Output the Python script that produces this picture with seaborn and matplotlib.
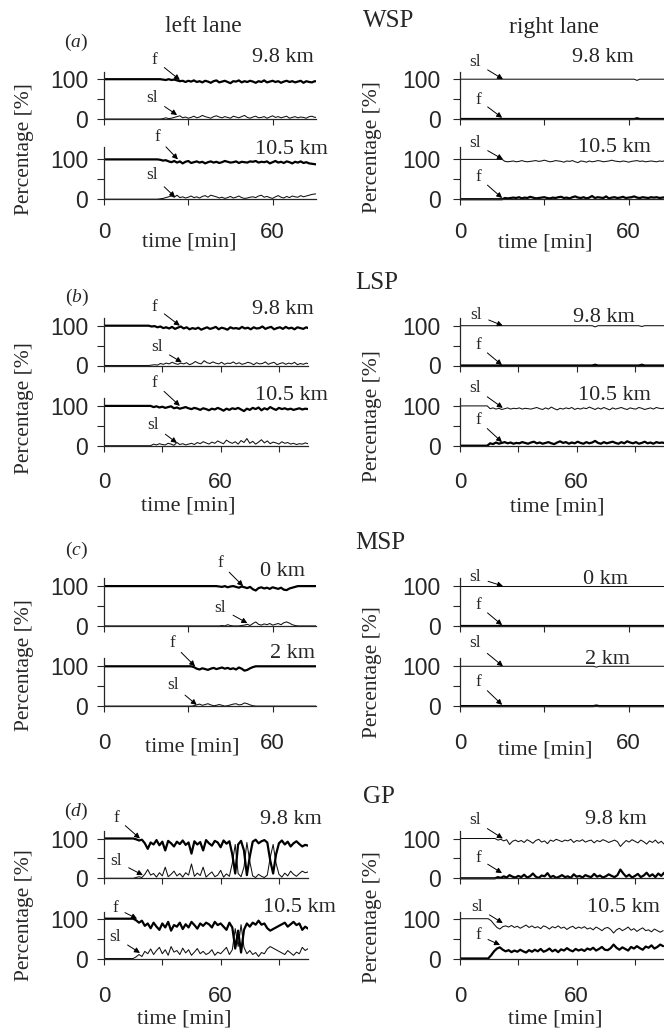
import matplotlib
matplotlib.use("Agg")
import matplotlib.pyplot as plt
import seaborn as sns

W, H = 664, 1032

# ------------------------------------------------------------------ data
LANES = ["left lane", "right lane"]
GROUPS = ["WSP", "LSP", "MSP", "GP"]
PANEL_LETTERS = ["a", "b", "c", "d"]
DISTANCES = [["9.8 km", "10.5 km"], ["9.8 km", "10.5 km"], ["0 km", "2 km"], ["9.8 km", "10.5 km"]]
Y_TICKS = [0, 50, 100]
Y_TICK_LABELS = ["0", "", "100"]
X_TICKS = [0, 30, 60, 90]
X_TICK_LABELS = ["0", "", "60", ""]
X_MAX = [75.5, 105, 75.5, 105]          # minutes shown per group
STEP_AC = 1.0                            # sampling step [min] groups a, c
STEP_BD = 1.5                            # sampling step [min] groups b, d

# ---- (a) WSP, left lane
a_lt_f = [100, 99, 98, 100, 98, 99, 97, 95, 96, 93, 96, 94, 97, 93, 95, 92, 96, 94, 91, 95,
          97, 92, 94, 96, 93, 90, 95, 94, 97, 92, 95, 93, 96, 94, 91, 95, 93, 97, 92, 94,
          96, 93, 95, 91, 94, 96, 93, 95, 92, 94, 96, 91, 95, 93, 92, 95, 94, 93]
a_lt_sl = [0, 1, 3, 1, 2, 4, 6, 8, 3, 5, 2, 4, 7, 3, 5, 9, 6, 4, 2, 6,
           8, 5, 3, 6, 4, 2, 7, 5, 3, 6, 9, 4, 2, 5, 7, 3, 4, 6, 2, 5,
           8, 4, 6, 3, 5, 7, 2, 4, 6, 3, 5, 4, 2, 6, 7, 4, 5, 6]
a_lb_f = [100, 99, 97, 98, 95, 93, 96, 92, 95, 90, 94, 96, 91, 93, 95, 92, 94, 90, 93, 95,
          92, 94, 91, 93, 96, 94, 92, 93, 95, 91, 94, 93, 92, 95, 94, 96, 92, 94, 93, 95,
          90, 93, 96, 92, 94, 91, 95, 93, 90, 94, 92, 95, 91, 93, 90, 89, 88, 87, 88]
a_lb_sl = [0, 1, 2, 4, 6, 8, 5, 10, 4, 6, 3, 5, 8, 4, 6, 3, 7, 9, 5, 10,
           8, 6, 3, 5, 2, 4, 7, 3, 5, 8, 4, 2, 3, 5, 6, 4, 8, 10, 5, 7,
           4, 2, 6, 9, 5, 3, 7, 4, 8, 6, 5, 9, 6, 8, 10, 12, 13, 14, 14]
# ---- (a) WSP, right lane
a_rt_sl = [100, 97, 100]
a_rt_f = [0, 2, 0]
a_rb_sl = [100, 95, 94, 95, 96, 94, 95, 97, 95, 94, 95, 96, 97, 95, 96, 98, 96, 94, 95, 97,
           96, 95, 93, 96, 95, 97, 94, 92, 96, 95, 93, 96, 94, 95, 97, 96, 94, 95, 96, 98,
           96, 95, 94, 96, 95, 93, 95, 96, 97, 95, 96, 94, 95, 96, 95, 94, 96, 95, 97, 95, 96, 95]
a_rb_f = [0, 3, 2, 3, 4, 3, 5, 2, 4, 3, 6, 4, 2, 3, 4, 5, 3, 2, 4, 3,
          5, 6, 3, 4, 2, 5, 7, 4, 3, 5, 2, 4, 8, 3, 5, 4, 3, 7, 2, 4,
          5, 3, 4, 6, 3, 4, 5, 7, 4, 3, 5, 4, 3, 5, 4, 5, 3, 4, 5, 4, 3, 4]

# ---- (b) LSP, left lane
b_lt_f = [100, 98, 99, 96, 98, 94, 96, 93, 97, 92, 95, 98, 93, 96, 91, 94, 92, 95, 90, 93,
          96, 92, 94, 97, 91, 95, 93, 90, 96, 93, 94, 92, 97, 93, 95, 91, 96, 93, 94, 98,
          92, 95, 97, 91, 94, 96, 92, 97, 93, 95, 91, 96, 94, 92, 96, 93]
b_lt_sl = [0, 1, 2, 1, 5, 3, 6, 4, 8, 5, 3, 6, 4, 7, 2, 5, 10, 6, 4, 12,
           7, 5, 9, 6, 4, 8, 3, 6, 5, 9, 4, 7, 3, 5, 8, 6, 2, 7, 4, 5,
           9, 3, 6, 8, 2, 5, 7, 3, 6, 4, 8, 2, 5, 3, 6, 4]
b_lb_f = [100, 97, 99, 96, 98, 95, 97, 99, 94, 96, 93, 95, 97, 94, 92, 95, 93, 90, 94, 92,
          89, 93, 91, 95, 92, 88, 93, 90, 94, 92, 95, 91, 87, 93, 90, 95, 92, 96, 89, 94,
          91, 97, 93, 90, 95, 92, 94, 91, 93, 90, 92, 94, 91, 93, 92, 94]
b_lb_sl = [0, 4, 2, 5, 3, 2, 6, 4, 1, 8, 3, 5, 2, 4, 6, 3, 8, 5, 10, 7,
           4, 9, 6, 12, 8, 5, 14, 9, 6, 10, 4, 13, 8, 18, 6, 11, 4, 9, 15, 7,
           12, 5, 9, 7, 4, 10, 6, 8, 4, 6, 3, 5, 4, 7, 5, 6]
# ---- (b) LSP, right lane
b_rt_sl = [100, 97, 100, 100, 100, 100, 100, 100, 100, 100, 100, 100, 100, 100, 100, 100, 100, 98, 100]
b_rt_f = [0, 2, 0, 0, 0, 0, 0, 0, 0, 0, 0, 0, 0, 0, 0, 0, 0, 2, 0]
b_rb_sl = [100, 93, 95, 92, 94, 91, 93, 95, 92, 94, 93, 95, 92, 94, 93, 92, 94, 96, 93, 91,
           95, 92, 97, 93, 90, 94, 92, 95, 93, 96, 91, 94, 92, 95, 93, 97, 94, 91, 95, 92,
           96, 93, 90, 95, 92, 94, 96, 93, 91, 95, 93, 92, 96, 94, 91, 93, 95, 92, 96, 94, 93, 95]
b_rb_f = [0, 6, 4, 8, 5, 7, 9, 6, 8, 5, 7, 6, 9, 7, 5, 8, 10, 6, 8, 5,
          7, 9, 6, 4, 8, 11, 7, 9, 5, 8, 6, 10, 7, 5, 9, 6, 8, 12, 7, 5,
          9, 6, 8, 10, 7, 5, 9, 6, 11, 8, 6, 9, 5, 7, 10, 6, 8, 5, 9, 7, 8, 6]

# ---- (c) MSP, left lane
c_lt_f = [100, 99, 98, 100, 97, 99, 100, 98, 96, 99, 97, 95, 98, 92, 89, 95, 97, 94, 96, 93,
          97, 95, 93, 96, 91, 90, 94, 96, 98, 100]
c_lt_sl = [0, 0, 1, 0, 3, 1, 0, 0, 0, 1, 2, 4, 1, 6, 10, 4, 2, 5, 3, 6,
           2, 4, 6, 3, 8, 10, 7, 3, 1, 0]
c_lb_f = [100, 98, 94, 92, 95, 93, 91, 94, 96, 93, 95, 97, 94, 96, 93, 95, 92, 97, 94, 89,
          91, 95, 98, 100]
c_lb_sl = [0, 1, 3, 5, 2, 4, 6, 3, 1, 2, 4, 2, 0, 1, 3, 5, 6, 3, 4, 8,
           6, 3, 1, 0]
# ---- (c) MSP, right lane
c_rt_sl = [100]
c_rt_f = [0]
c_rb_sl = [100, 98, 100]
c_rb_f = [0, 1.5, 0]

# ---- (d) GP, left lane
d_lt_f = [100, 98, 95, 97, 88, 74, 90, 85, 96, 83, 92, 70, 94, 88, 80, 92, 86, 95, 84, 90,
          62, 93, 85, 91, 70, 96, 88, 82, 94, 90, 78, 95, 87, 93, 60, 12, 85, 94, 70, 8,
          55, 92, 97, 88, 93, 96, 90, 45, 12, 60, 88, 95, 85, 92, 80, 88, 93, 86, 80, 84, 82]
d_lt_sl = [0, 2, 4, 2, 10, 22, 8, 12, 3, 14, 6, 28, 4, 10, 18, 6, 12, 3, 14, 8,
           36, 5, 13, 7, 28, 3, 10, 16, 4, 8, 20, 3, 11, 5, 38, 85, 12, 4, 28, 90,
           42, 6, 2, 10, 5, 2, 8, 52, 85, 38, 10, 3, 13, 6, 18, 10, 5, 12, 18, 14, 16]
d_lb_f = [100, 96, 90, 95, 82, 88, 76, 90, 80, 72, 88, 78, 92, 70, 84, 80, 90, 74, 86, 78,
          92, 84, 75, 88, 82, 90, 86, 78, 92, 84, 88, 80, 72, 90, 78, 25, 70, 15, 72, 88,
          80, 90, 85, 95, 85, 88, 76, 70, 74, 78, 82, 86, 90, 80, 86, 92, 84, 88, 72, 80, 75]
d_lb_sl = [0, 4, 10, 5, 18, 12, 24, 10, 20, 28, 12, 22, 8, 30, 16, 20, 10, 26, 14, 22,
           8, 16, 25, 12, 18, 10, 14, 22, 8, 16, 12, 20, 28, 10, 22, 75, 30, 85, 28, 12,
           20, 10, 15, 5, 15, 12, 24, 30, 26, 22, 18, 14, 10, 20, 14, 8, 16, 12, 28, 20, 25]
# ---- (d) GP, right lane
d_rt_sl = [100, 96, 98, 94, 97, 85, 93, 96, 92, 95, 90, 97, 93, 88, 95, 98, 91, 94, 87, 96,
           93, 98, 95, 92, 96, 94, 98, 90, 95, 93, 97, 91, 94, 96, 89, 95, 92, 97, 94, 90,
           93, 96, 92, 80, 88, 95, 91, 97, 93, 89, 96, 92, 86, 94, 90, 96, 88, 93, 86, 90]
d_rt_f = [0, 3, 1, 5, 2, 8, 4, 2, 6, 3, 9, 2, 5, 12, 4, 1, 7, 5, 13, 3,
          6, 1, 4, 8, 3, 5, 1, 10, 4, 6, 2, 8, 5, 3, 11, 4, 7, 2, 5, 10,
          6, 3, 8, 22, 12, 4, 9, 2, 6, 11, 3, 7, 14, 5, 10, 3, 12, 6, 14, 10]
d_rb_sl = [100, 95, 86, 78, 74, 80, 82, 79, 83, 78, 81, 76, 80, 84, 78, 82, 77, 80, 75, 82,
           79, 74, 80, 77, 82, 76, 79, 73, 78, 81, 75, 79, 76, 80, 74, 77, 72, 79, 75, 70,
           76, 78, 73, 64, 72, 76, 70, 74, 79, 71, 75, 68, 73, 77, 70, 72, 67, 74, 70, 66, 70]
d_rb_f = [0, 8, 18, 25, 28, 22, 18, 21, 16, 20, 17, 22, 18, 15, 21, 17, 22, 18, 24, 17,
          20, 25, 18, 22, 16, 23, 20, 26, 21, 18, 24, 20, 23, 19, 25, 22, 27, 20, 24, 29,
          22, 21, 26, 35, 27, 22, 28, 24, 20, 29, 25, 31, 26, 22, 30, 27, 33, 25, 29, 35, 31]

# series spec: (onset [min], step [min], values, end time of flat tail or None)
SERIES = [
    [  # a
        [((20, STEP_AC, a_lt_f, None), (20, STEP_AC, a_lt_sl, None)),
         ((19, STEP_AC, a_lb_f, None), (19, STEP_AC, a_lb_sl, None))],
        [((62, STEP_AC, a_rt_f, 80), (62, STEP_AC, a_rt_sl, 80)),
         ((15, STEP_AC, a_rb_f, None), (15, STEP_AC, a_rb_sl, None))],
    ],
    [  # b
        [((23, STEP_BD, b_lt_f, None), (23, STEP_BD, b_lt_sl, None)),
         ((24, STEP_BD, b_lb_f, None), (24, STEP_BD, b_lb_sl, None))],
        [((68, STEP_BD, b_rt_f, 110), (68, STEP_BD, b_rt_sl, 110)),
         ((14, STEP_BD, b_rb_f, None), (14, STEP_BD, b_rb_sl, None))],
    ],
    [  # c
        [((40, STEP_AC, c_lt_f, 80), (40, STEP_AC, c_lt_sl, 80)),
         ((31, STEP_AC, c_lb_f, 80), (31, STEP_AC, c_lb_sl, 80))],
        [((0, STEP_AC, c_rt_f, 80), (0, STEP_AC, c_rt_sl, 80)),
         ((47.5, STEP_AC, c_rb_f, 80), (47.5, STEP_AC, c_rb_sl, 80))],
    ],
    [  # d
        [((15, STEP_BD, d_lt_f, None), (15, STEP_BD, d_lt_sl, None)),
         ((15, STEP_BD, d_lb_f, None), (15, STEP_BD, d_lb_sl, None))],
        [((18, STEP_BD, d_rt_f, None), (18, STEP_BD, d_rt_sl, None)),
         ((14.5, STEP_BD, d_rb_f, None), (14.5, STEP_BD, d_rb_sl, None))],
    ],
]

# ------------------------------------------------------------------ layout
SANS = "Liberation Sans"
SERIF = "Liberation Serif"
sns.set_style("ticks")
plt.rcParams["font.family"] = [SERIF, "DejaVu Serif"]
plt.rcParams["mathtext.fontset"] = "custom"
plt.rcParams["mathtext.rm"] = SERIF
plt.rcParams["mathtext.it"] = SERIF + ":italic"

PX_PER_UNIT = 0.398
YLIM = (-20, 135)
GROUP_ZERO = [119.0, 365.5, 625.9, 878.3]
SUB_GAP = 80.2
COL_X0 = [104, 460]
PX_PER_MIN = [2.81, 1.944, 2.81, 1.944]
SPINE_TOP = [[118, 130], [120, 121], [120, 122], [118, 118]]
XPAD = [12, 14.5, 15, 15]
YPAD = [6.5, 9]

# annotations: (label, t, value, dx_px, dy_px)
ANN = [
    [[[("f", 27, 98, -25, 20), ("sl", 26, 10, -25, 17)],
      [("f", 26.3, 100, -21, 22), ("sl", 25.3, 5, -23, 22)]],
     [[("sl", 15.3, 100, -28, 17), ("f", 15, 3, -24, 18)],
      [("sl", 15.3, 100, -28, 16), ("f", 15, 3, -24, 21)]]],
    [[[("f", 39, 100, -25, 19), ("sl", 40, 8, -25, 15)],
      [("f", 39, 100, -25, 23), ("sl", 37.5, 7, -24, 18)]],
     [[("sl", 22, 100, -27, 11), ("f", 21.6, 1, -24, 20)],
      [("sl", 22, 95, -28, 20), ("f", 21.6, 9, -24, 22)]]],
    [[[("f", 49.5, 100, -23, 23), ("sl", 51, 7, -27, 15)],
      [("f", 32.4, 100, -23, 23), ("sl", 33, 3, -24, 20)]],
     [[("sl", 15.3, 100, -28, 9), ("f", 15, 2, -24, 20)],
      [("sl", 15.3, 100, -28, 23), ("f", 15, 3, -24, 23)]]],
    [[[("f", 18.5, 100, -24, 21), ("sl", 20, 8, -27, 14)],
      [("f", 17, 100, -22, 11), ("sl", 18.5, 14, -25, 16)]],
     [[("sl", 22, 100, -28, 18), ("f", 21.6, 13, -24, 15)],
      [("sl", 22, 89, -26, 16), ("f", 20.6, 34, -22, 10)]]],
]

DIST_POS = [  # (x_left, y_center) px
    [[(252, 57), (255, 149)], [(572, 57), (578, 147)]],
    [[(252, 310), (255, 395)], [(573, 318), (578, 395)]],
    [[(260, 571), (270, 653)], [(583, 579), (585, 659)]],
    [[(260, 820), (263, 907)], [(585, 820), (587, 907)]],
]
TIME_POS = [[(189, 242), (545, 243)], [(188, 506), (557, 507)],
            [(192, 747), (545, 750)], [(184, 1019), (555, 1019)]]
PCT_Y = [[149, 147], [408, 416], [665, 672], [915, 917]]
PCT_X = [24, 373]
LETTER_POS = [(76, 42), (77, 297), (76, 550), (76, 811)]
GROUP_POS = [(363, 21), (355, 283), (355, 543), (363, 797)]
LANE_POS = [(203, 27), (554, 28)]


def fx(x):
    return x / W


def fy(y):
    return 1 - y / H


def build(spec):
    t0, dt, vals, t_end = spec
    x = [0.0] + [t0 + i * dt for i in range(len(vals))]
    y = [vals[0]] + list(vals)
    if t_end is not None:
        x.append(t_end)
        y.append(vals[-1])
    return x, y


fig = plt.figure(figsize=(W / 100, H / 100), dpi=100)

for g in range(4):
    for col in range(2):
        for sub in range(2):
            zero = GROUP_ZERO[g] + sub * SUB_GAP
            bottom_px = zero - YLIM[0] * PX_PER_UNIT
            height_px = (YLIM[1] - YLIM[0]) * PX_PER_UNIT
            width_px = X_MAX[g] * PX_PER_MIN[g]
            ax = fig.add_axes([fx(COL_X0[col]), fy(bottom_px), width_px / W, height_px / H])
            ax.patch.set_alpha(0)
            f_spec, sl_spec = SERIES[g][col][sub]
            xs, ys = build(sl_spec)
            sns.lineplot(x=xs, y=ys, ax=ax, color="#111111", linewidth=0.75,
                         estimator=None, sort=False)
            xs, ys = build(f_spec)
            sns.lineplot(x=xs, y=ys, ax=ax, color="black", linewidth=1.6,
                         estimator=None, sort=False)
            ax.set_xlabel("")
            ax.set_ylabel("")
            for s in ("top", "right"):
                ax.spines[s].set_visible(False)
            ax.spines["bottom"].set_position(("data", 0))
            ax.spines["bottom"].set_linewidth(0.9)
            ax.spines["left"].set_linewidth(0.9)
            ax.spines["left"].set_bounds(0, SPINE_TOP[g][sub])
            ax.set_yticks(Y_TICKS)
            ax.set_yticklabels(Y_TICK_LABELS, fontfamily=SANS, fontsize=16.5)
            ax.set_xticks(X_TICKS)
            if sub == 1:
                ax.set_xticklabels(X_TICK_LABELS, fontfamily=SANS, fontsize=16)
            else:
                ax.set_xticklabels([""] * len(X_TICKS))
            # limits after ticks (set_xticks would widen the view otherwise)
            ax.set_xlim(0, X_MAX[g])
            ax.set_ylim(*YLIM)
            ax.tick_params(axis="y", direction="out", length=5, width=0.8, pad=YPAD[col])
            ax.tick_params(axis="x", direction="out", length=4.5, width=0.8, pad=XPAD[g])
            for lab, t, v, dx, dy in ANN[g][col][sub]:
                ax.annotate(lab, xy=(t, v), xytext=(dx, dy), textcoords="offset pixels",
                            ha="center", va="center", fontsize=12.5, family=SERIF,
                            arrowprops=dict(arrowstyle="-|>", color="black", lw=0.7,
                                            mutation_scale=8, shrinkA=3, shrinkB=0))
            dx_, dy_ = DIST_POS[g][col][sub]
            fig.text(fx(dx_), fy(dy_), DISTANCES[g][sub], ha="left", va="center",
                     fontsize=16, family=SERIF)
        tx, ty = TIME_POS[g][col]
        fig.text(fx(tx), fy(ty), "time [min]", ha="center", va="center", fontsize=16, family=SERIF)
        fig.text(fx(PCT_X[col]), fy(PCT_Y[g][col]), "Percentage [%]", rotation=90,
                 ha="center", va="center", fontsize=15.5, family=SERIF)
    lx, ly = LETTER_POS[g]
    fig.text(fx(lx), fy(ly), "($\\mathit{" + PANEL_LETTERS[g] + "}$)", ha="center", va="center",
             fontsize=14, family=SERIF)
    gx, gy = GROUP_POS[g]
    fig.text(fx(gx), fy(gy), GROUPS[g], ha="left", va="center", fontsize=18, family=SERIF)

for col in range(2):
    lx, ly = LANE_POS[col]
    fig.text(fx(lx), fy(ly), LANES[col], ha="center", va="center", fontsize=17, family=SERIF)

fig.savefig("out.png", dpi=100)
